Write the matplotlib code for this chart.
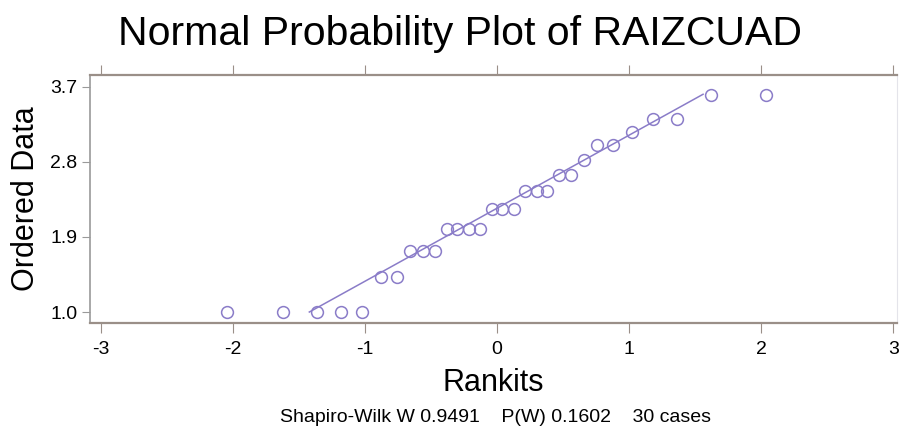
import matplotlib.pyplot as plt

plt.rcParams['font.family'] = ['Liberation Sans', 'DejaVu Sans']

# Rankits (expected normal order statistics, n = 30)
rankits = [-2.04, -1.62, -1.36, -1.18, -1.02, -0.88, -0.76, -0.66, -0.56, -0.47,
           -0.38, -0.30, -0.21, -0.13, -0.04, 0.04, 0.13, 0.21, 0.30, 0.38,
           0.47, 0.56, 0.66, 0.76, 0.88, 1.02, 1.18, 1.36, 1.62, 2.04]
# Ordered values of RAIZCUAD
ordered = [1.0, 1.0, 1.0, 1.0, 1.0, 1.414, 1.414, 1.732, 1.732, 1.732,
           2.0, 2.0, 2.0, 2.0, 2.236, 2.236, 2.236, 2.449, 2.449, 2.449,
           2.646, 2.646, 2.828, 3.0, 3.0, 3.162, 3.317, 3.317, 3.606, 3.606]

# reference line end points
line_x = [-1.42, 1.56]
line_y = [1.0, 3.61]

xticks = [-3, -2, -1, 0, 1, 2, 3]
yticks = [1.0, 1.9, 2.8, 3.7]

fig = plt.figure(figsize=(9, 4.29), dpi=100)
ax = fig.add_axes([0.1, 0.247, 0.897, 0.578])

ax.plot(line_x, line_y, color='#8a7cc8', lw=1.1)
ax.plot(rankits, ordered, 'o', mfc='none', mec='#8a7cc8', mew=1.1, ms=8.5)

ax.set_xlim(-3.08, 3.03)
ax.set_ylim(0.868, 3.84)
ax.set_xticks(xticks)
ax.set_xticklabels([str(t) for t in xticks])
ax.set_yticks(yticks)
ax.set_yticklabels([f'{t:.1f}' for t in yticks])

ax.tick_params(axis='x', which='both', top=True, direction='out', length=7,
               color='#9a8f88', labelsize=14, pad=6)
ax.tick_params(axis='y', direction='out', length=6, color='#9a9a9a',
               labelsize=14, pad=3)

ax.spines['top'].set_color('#9a8f88')
ax.spines['bottom'].set_color('#9a8f88')
ax.spines['top'].set_linewidth(1.6)
ax.spines['bottom'].set_linewidth(1.6)
ax.spines['left'].set_color('#9a9a9a')
ax.spines['left'].set_linewidth(1.2)
ax.spines['right'].set_color('#e4e4ea')

ax.set_xlabel('Rankits', fontsize=22, labelpad=7)
ax.set_ylabel('Ordered Data', fontsize=22, labelpad=7)

fig.text(0.511, 0.92, 'Normal Probability Plot of RAIZCUAD', ha='center',
         va='center', fontsize=29.5)
fig.text(0.551, 0.027, 'Shapiro-Wilk W 0.9491    P(W) 0.1602    30 cases',
         ha='center', va='center', fontsize=14)

fig.savefig('out.png', dpi=100)
